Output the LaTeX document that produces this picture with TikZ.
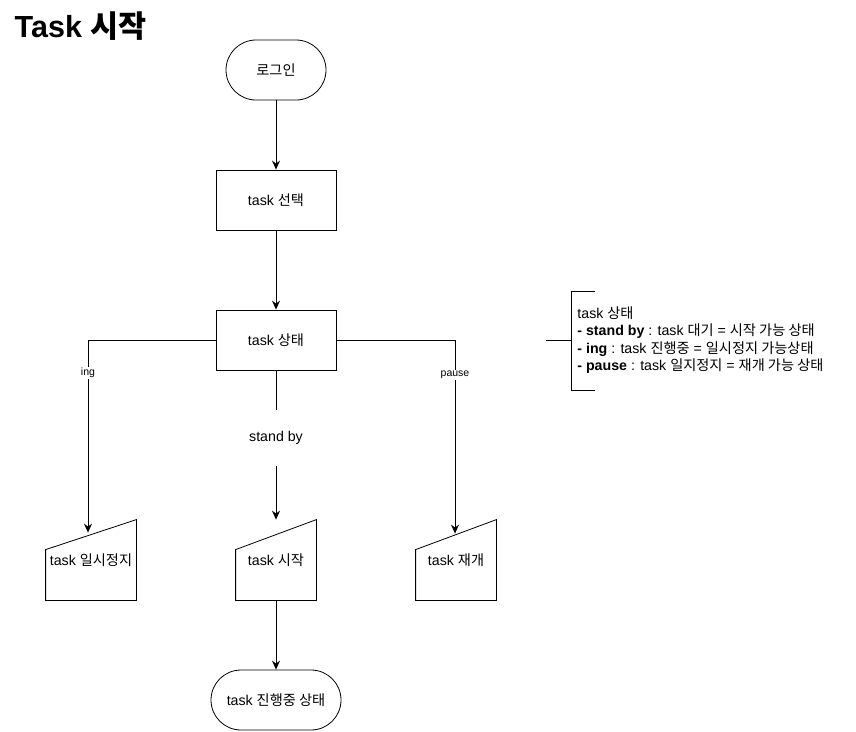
\documentclass[tikz,border=0pt]{standalone}
\usepackage{fontspec}
\setmainfont{Liberation Sans}
\newfontfamily\kr{Noto Sans CJK KR}
\usetikzlibrary{arrows.meta}
\tikzset{
  txt/.style={font=\fontsize{14.2}{17.4}\selectfont},
  term/.style={draw, txt, rounded corners=30pt, minimum height=60pt},
  proc/.style={draw, txt, minimum width=120pt, minimum height=60pt},
  manin/.style={txt, minimum width=80pt, minimum height=80pt},
  arr/.style={-{Stealth[length=9pt,width=8pt,inset=3pt]}},
  lbl/.style={fill=white, inner sep=1pt, font=\fontsize{10.5}{12}\selectfont}
}
\begin{document}
\begin{tikzpicture}[x=1pt,y=-1pt,line width=0.8pt]
\useasboundingbox (0,0) rectangle (856,731);
\node[anchor=west, font=\bfseries\fontsize{30.5}{34}\selectfont] (title) at (11,26) {Task {\kr 시작}};
% flow
\node[term, minimum width=100pt] (login) at (276,70) {\kr 로그인};
\node[proc] (select) at (276,200) {task {\kr 선택}};
\node[proc] (state) at (276,340) {task {\kr 상태}};
\node[manin, minimum width=90pt] (pauseTask) at (91,560) {task {\kr 일시정지}};
\node[manin] (startTask) at (276,560) {task {\kr 시작}};
\node[manin] (resumeTask) at (456,560) {task {\kr 재개}};
\node[term, minimum width=130pt] (running) at (276,700) {task {\kr 진행중 상태}};
\foreach \n in {pauseTask,startTask,resumeTask}
  \draw (\n.south west) -- (\n.south east) -- (\n.north east) -- ([yshift=-30pt]\n.north west) -- cycle;
% connectors
\draw[arr] (login) -- (select);
\draw[arr] (select) -- (state);
\draw[arr] (state.west) -| ([xshift=-3pt,yshift=-13pt]pauseTask.north) node[lbl, pos=0.585] {ing};
\draw[arr] (state.east) -| ([xshift=-1pt,yshift=-14pt]resumeTask.north) node[lbl, pos=0.59] {pause};
\draw[arr] (state) -- (startTask) node[txt, fill=white, minimum height=56pt, pos=0.455] {stand by};
\draw[arr] (startTask) -- (running);
% note
\coordinate (brk) at (571,340);
\draw (546,340) -- (brk);
\draw (595,291) -- (571,291) -- (571,390) -- (595,390);
\node[txt, anchor=west, align=left, inner sep=0pt] (note) at (577,340)
  {task {\kr 상태}\\
   \textbf{- stand by} : task {\kr 대기} = {\kr 시작 가능 상태}\\
   \textbf{- ing} : task {\kr 진행중} = {\kr 일시정지 가능상태}\\
   \textbf{- pause} : task {\kr 일지정지} = {\kr 재개 가능 상태}};
\end{tikzpicture}
\end{document}
